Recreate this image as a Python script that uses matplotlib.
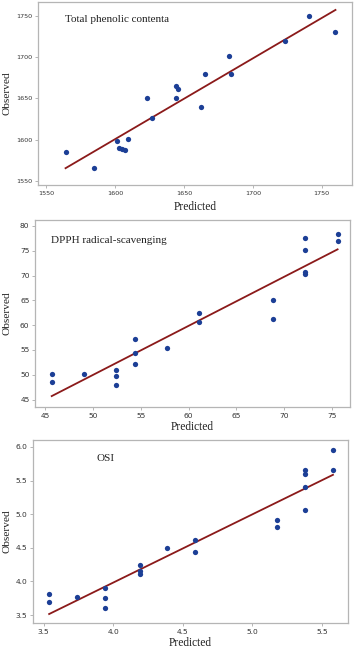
import numpy as np
import matplotlib.pyplot as plt

# Total phenolic content
tpc_pred = [1564, 1585, 1601, 1603, 1605, 1607, 1609, 1623, 1627, 1644, 1646, 1644,
            1662, 1665, 1683, 1684, 1723, 1741, 1760]
tpc_obs = [1585, 1566, 1598, 1590, 1589, 1588, 1601, 1650, 1626, 1665, 1662, 1650,
           1640, 1680, 1701, 1680, 1720, 1750, 1730]

# DPPH radical-scavenging
dpph_pred = [45.65, 45.65, 49.0, 52.36, 52.36, 52.36, 54.35, 54.35, 54.35, 57.7,
             61.1, 61.1, 68.86, 68.86, 72.15, 72.15, 72.15, 72.15, 75.6, 75.6]
dpph_obs = [50.2, 48.6, 50.2, 50.86, 49.65, 47.97, 57.3, 54.4, 52.1, 55.4,
            62.4, 60.6, 65.0, 61.3, 77.5, 75.1, 70.8, 70.4, 78.4, 76.9]

# OSI
osi_pred = [3.54, 3.54, 3.74, 3.94, 3.94, 3.94, 4.19, 4.19, 4.19, 4.39, 4.59, 4.59,
            5.18, 5.18, 5.38, 5.38, 5.38, 5.38, 5.58, 5.58]
osi_obs = [3.81, 3.69, 3.77, 3.90, 3.75, 3.61, 4.25, 4.15, 4.11, 4.49, 4.61, 4.44,
           4.91, 4.81, 5.66, 5.59, 5.41, 5.06, 5.96, 5.66]

titles = ["Total phenolic contenta", "DPPH radical-scavenging", "OSI"]
xticks = [[1550, 1600, 1650, 1700, 1750], [45, 50, 55, 60, 65, 70, 75],
          [3.5, 4.0, 4.5, 5.0, 5.5]]
yticks = [[1550, 1600, 1650, 1700, 1750], [45, 50, 55, 60, 65, 70, 75, 80],
          [3.5, 4.0, 4.5, 5.0, 5.5, 6.0]]
xlims = [(1544, 1772), (43.9, 76.9), (3.424, 5.688)]
ylims = [(1545.3, 1766.7), (43.5, 81.2), (3.383, 6.102)]

# panel boxes in pixels: left, right, top, bottom
boxes = [(38, 352, 2, 185), (35, 350, 220, 407), (33, 348, 440, 623)]
title_pos = [(0.086, 0.907), (0.051, 0.893), (0.203, 0.90)]
xlab_y = [207, 427, 643]
tick_fs = [4.6, 5.4, 5.4]
fmt = ["{:.0f}", "{:.0f}", "{:.1f}"]

W, H = 355, 652
fig = plt.figure(figsize=(W / 100, H / 100), dpi=100)
serif = "Liberation Serif"

data = [(tpc_pred, tpc_obs), (dpph_pred, dpph_obs), (osi_pred, osi_obs)]
for i, (xp, yo) in enumerate(data):
    l, r, t, b = boxes[i]
    ax = fig.add_axes([l / W, 1 - b / H, (r - l) / W, (b - t) / H])
    xp = np.array(xp)
    yo = np.array(yo)
    # fitted line
    k, c = np.polyfit(xp, yo, 1)
    xs = np.array([xp.min(), xp.max()])
    ax.plot(xs, k * xs + c, color="#8b1a1a", lw=1.3, zorder=2)
    ax.plot(xp, yo, "o", color="#1c3f96", ms=3.8, mew=0, zorder=3)
    ax.set_xlim(xlims[i])
    ax.set_ylim(ylims[i])
    ax.set_xticks(xticks[i])
    ax.set_yticks(yticks[i])
    ax.set_xticklabels([fmt[i].format(v) for v in xticks[i]])
    ax.set_yticklabels([fmt[i].format(v) for v in yticks[i]])
    ax.tick_params(labelsize=tick_fs[i], colors="#aaaaaa", labelcolor="#333333",
                   length=2, width=0.6, pad=2)
    for s in ax.spines.values():
        s.set_color("#b5b5b5")
        s.set_linewidth(0.9)
    ax.text(title_pos[i][0], title_pos[i][1], titles[i], transform=ax.transAxes,
            family=serif, fontsize=8, va="center", ha="left", color="#222222")
    fig.text((l + r) / 2 / W, 1 - xlab_y[i] / H, "Predicted", family=serif,
             fontsize=8.3, ha="center", va="center", color="#222222")
    fig.text(3 / W, 1 - (t + b) / 2 / H, "Observed", family=serif, fontsize=8.2,
             rotation=90, ha="left", va="center", color="#222222")
    if i == 0:
        ax.text(275, 1614, "Predicted", transform=ax.transData, family=serif,
                fontsize=8, ha="center", va="center", color="#222222")

fig.savefig("out.png", dpi=100)
